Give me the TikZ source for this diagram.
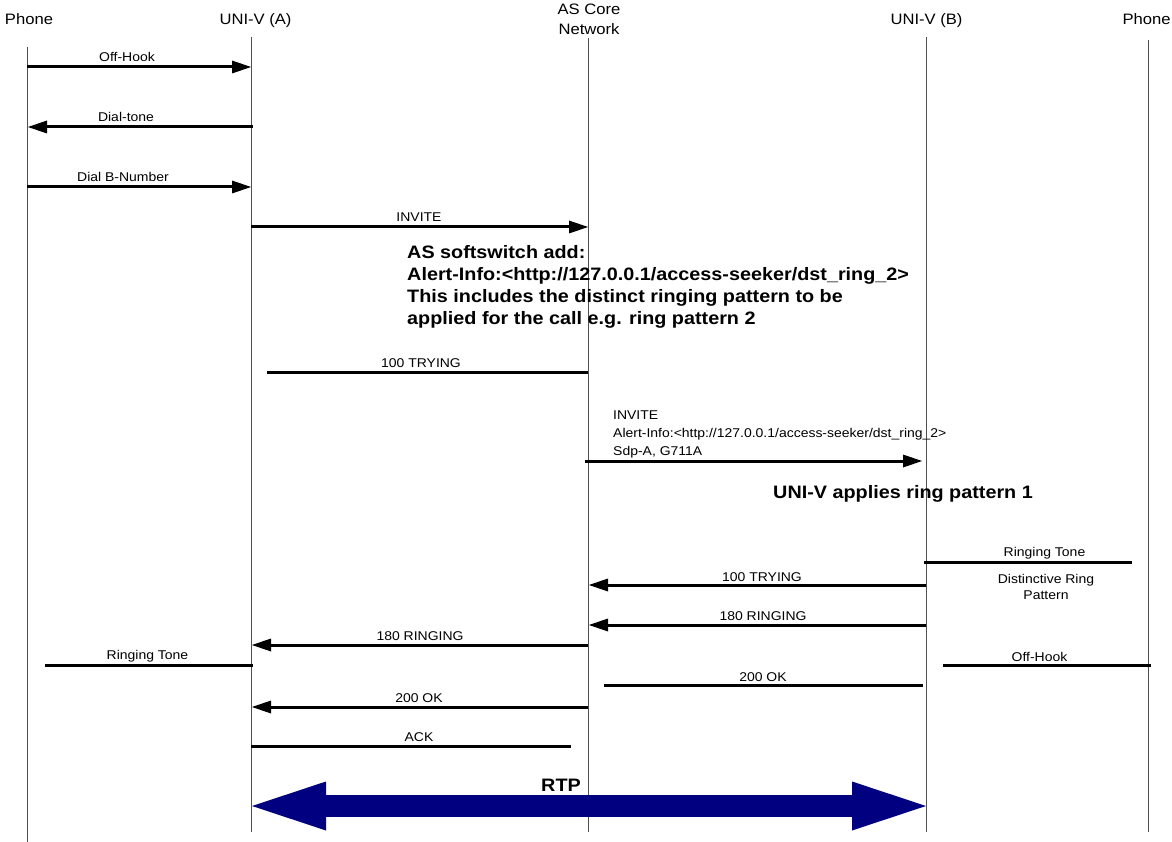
\documentclass[tikz,border=0pt]{standalone}
\usepackage{fontspec}
\setmainfont{Liberation Sans}
\newfontfamily\lblfont[FakeStretch=1.1]{Liberation Sans}
\usetikzlibrary{arrows.meta}
\definecolor{rtpblue}{RGB}{0,0,128}
\definecolor{lifegray}{RGB}{80,80,80}

\tikzset{
  head/.style={font=\lblfont\fontsize{15.1}{18}\selectfont, inner sep=0pt, anchor=base},
  lbl/.style={font=\lblfont\fontsize{12.7}{16}\selectfont, inner sep=0pt, anchor=base},
  lblw/.style={lbl, anchor=base west},
  note/.style={font=\lblfont\bfseries\fontsize{18}{22}\selectfont, inner sep=0pt, anchor=base west},
  life/.style={draw=lifegray, line width=0.9pt},
  msg/.style={line width=3pt, line cap=butt},
  tipmsg/.style={msg, -{Triangle[length=19pt,width=13pt,line width=0pt]}},
  rtp/.style={draw=rtpblue, line width=22pt, line cap=butt,
    {Triangle[length=74pt,width=49pt,line width=0pt]}-{Triangle[length=74pt,width=49pt,line width=0pt]}},
}

\begin{document}
\begin{tikzpicture}[x=1pt,y=-1pt]
\useasboundingbox (0,0) rectangle (1172,842);

% ---- entity headers ----
\node[head] (hPA)  at (29,25)     {Phone};
\node[head] (hUA)  at (255.5,25)  {UNI-V (A)};
\node[head] (hAS1) at (589,15)    {AS Core};
\node[head] (hAS2) at (589,35)    {Network};
\node[head] (hUB)  at (926.5,25)  {UNI-V (B)};
\node[head] (hPB)  at (1146.5,25) {Phone};

% ---- lifelines ----
\coordinate (pAt) at (27,47);    \coordinate (pAb) at (27,842);
\coordinate (uAt) at (251,37);   \coordinate (uAb) at (251,832);
\coordinate (ast) at (588,38);   \coordinate (asb) at (588,832);
\coordinate (uBt) at (926,37);   \coordinate (uBb) at (926,832);
\coordinate (pBt) at (1148,40);  \coordinate (pBb) at (1148,832);
\draw[life] (pAt) -- (pAb);
\draw[life] (uAt) -- (uAb);
\draw[life] (ast) -- (asb);
\draw[life] (uBt) -- (uBb);
\draw[life] (pBt) -- (pBb);

% ---- caller side ----
\coordinate (m1a) at (27,67);   \coordinate (m1b) at (251,67);
\draw[tipmsg] (m1a) -- (m1b);
\node[lbl] (l1) at (127,62) {Off-Hook};

\coordinate (m2a) at (253,127); \coordinate (m2b) at (28,127);
\draw[tipmsg] (m2a) -- (m2b);
\node[lbl] (l2) at (126,122) {Dial-tone};

\coordinate (m3a) at (27,187);  \coordinate (m3b) at (251,187);
\draw[tipmsg] (m3a) -- (m3b);
\node[lbl] (l3) at (123,182) {Dial B-Number};

\coordinate (m4a) at (251,227); \coordinate (m4b) at (588,227);
\draw[tipmsg] (m4a) -- (m4b);
\node[lbl] (l4) at (419,222) {INVITE};

% softswitch note
\node[note] (n1) at (407,258.5) {AS softswitch add:};
\node[note] (n2) at (407,280.5) {Alert-Info:<http://127.0.0.1/access-seeker/dst\_ring\_2>};
\node[note] (n3) at (407,302.5) {This includes the distinct ringing pattern to be};
\node[note] (n4) at (407,324.5) {applied for the call e.g. ring pattern 2};

\coordinate (m5a) at (267,372); \coordinate (m5b) at (588,372);
\draw[msg] (m5a) -- (m5b);
\node[lbl] (l5) at (421,367) {100 TRYING};

% ---- towards callee ----
\node[lblw] (i1) at (613,419) {INVITE};
\node[lblw] (i2) at (613,437) {Alert-Info:<http://127.0.0.1/access-seeker/dst\_ring\_2>};
\node[lblw] (i3) at (613,455) {Sdp-A, G711A};
\coordinate (m6a) at (585,461); \coordinate (m6b) at (922,461);
\draw[tipmsg] (m6a) -- (m6b);

\node[note] (n5) at (773,498) {UNI-V applies ring pattern 1};

\coordinate (m7a) at (924,562); \coordinate (m7b) at (1132,562);
\draw[msg] (m7a) -- (m7b);
\node[lbl] (l7) at (1044.5,556) {Ringing Tone};

\coordinate (m8a) at (926,585); \coordinate (m8b) at (589,585);
\draw[tipmsg] (m8a) -- (m8b);
\node[lbl] (l8) at (762,581) {100 TRYING};

\node[lbl] (d1) at (1046,583) {Distinctive Ring};
\node[lbl] (d2) at (1046,599) {Pattern};

\coordinate (m9a) at (926,625); \coordinate (m9b) at (589,625);
\draw[tipmsg] (m9a) -- (m9b);
\node[lbl] (l9) at (763,620) {180 RINGING};

\coordinate (m10a) at (588,645); \coordinate (m10b) at (252,645);
\draw[tipmsg] (m10a) -- (m10b);
\node[lbl] (l10) at (420,640) {180 RINGING};

\coordinate (m11a) at (45,665); \coordinate (m11b) at (253,665);
\draw[msg] (m11a) -- (m11b);
\node[lbl] (l11) at (147.5,659.5) {Ringing Tone};

\coordinate (m12a) at (943,665); \coordinate (m12b) at (1151,665);
\draw[msg] (m12a) -- (m12b);
\node[lbl] (l12) at (1039.5,661) {Off-Hook};

\coordinate (m13a) at (604,685); \coordinate (m13b) at (923,685);
\draw[msg] (m13a) -- (m13b);
\node[lbl] (l13) at (763,681) {200 OK};

\coordinate (m14a) at (588,707); \coordinate (m14b) at (252,707);
\draw[tipmsg] (m14a) -- (m14b);
\node[lbl] (l14) at (419,702) {200 OK};

\coordinate (m15a) at (251,746); \coordinate (m15b) at (571,746);
\draw[msg] (m15a) -- (m15b);
\node[lbl] (l15) at (419,741) {ACK};

% ---- media path ----
\coordinate (rtpL) at (252,806); \coordinate (rtpR) at (926,806);
\draw[rtp] (rtpL) -- (rtpR);
\node[note, anchor=base] (lrtp) at (561,791) {RTP};

\end{tikzpicture}
\end{document}
